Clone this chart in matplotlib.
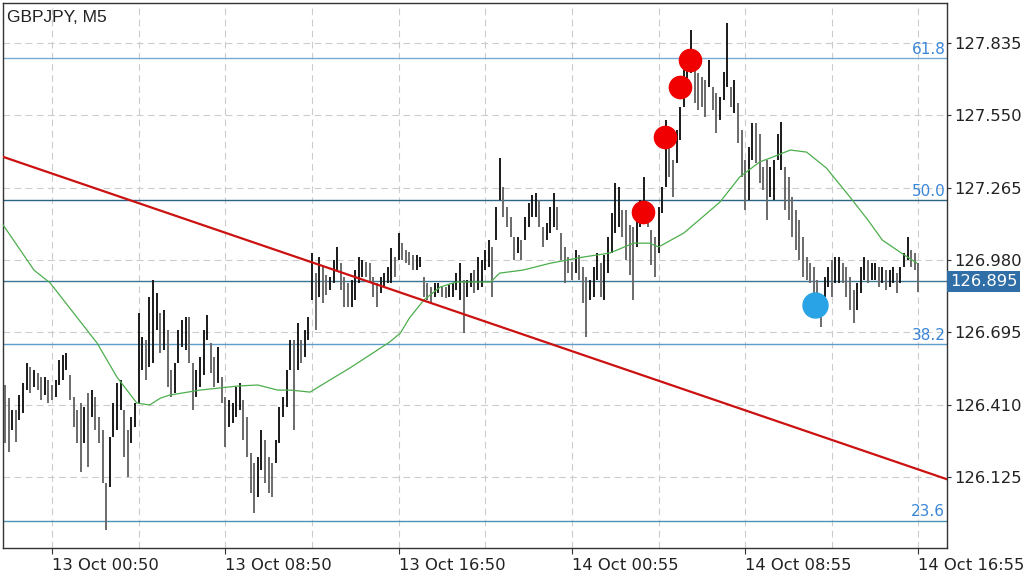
import numpy as np
import matplotlib
matplotlib.use("Agg")
import matplotlib.pyplot as plt
from matplotlib.transforms import blended_transform_factory

title = "GBPJPY, M5"
bar_step = 2  # one drawn bar per two M5 periods

highs = [
    126.487, 126.435, 126.388, 126.388, 126.447, 126.495, 126.573, 126.557, 126.546, 126.534,
    126.518, 126.518, 126.507, 126.487, 126.507, 126.585, 126.605, 126.613, 126.526, 126.439,
    126.388, 126.416, 126.400, 126.455, 126.467, 126.439, 126.361, 126.309, 126.100, 126.282,
    126.416, 126.495, 126.507, 126.388, 126.309, 126.361, 126.416, 126.771, 126.676, 126.664,
    126.834, 126.901, 126.849, 126.771, 126.783, 126.704, 126.546, 126.573, 126.704, 126.743,
    126.755, 126.755, 126.573, 126.546, 126.597, 126.704, 126.763, 126.652, 126.597, 126.636,
    126.518, 126.439, 126.428, 126.416, 126.479, 126.495, 126.428, 126.361, 126.219, 126.180,
    126.203, 126.309, 126.270, 126.203, 126.180, 126.270, 126.400, 126.439, 126.546, 126.664,
    126.664, 126.731, 126.664, 126.704, 126.755, 127.007, 126.928, 126.991, 126.952, 126.920,
    126.913, 126.980, 127.031, 126.968, 126.913, 126.889, 126.901, 126.940, 126.991, 126.980,
    126.972, 126.968, 126.913, 126.889, 126.913, 126.928, 126.952, 127.027, 126.991, 127.086,
    127.046, 127.019, 127.011, 126.999, 126.999, 126.991, 126.913, 126.889, 126.873, 126.889,
    126.889, 126.873, 126.873, 126.881, 126.889, 126.928, 126.968, 126.901, 126.901, 126.928,
    126.940, 126.991, 126.980, 127.019, 127.058, 127.031, 127.188, 127.382, 127.268, 127.188,
    127.149, 127.070, 127.070, 127.058, 127.149, 127.204, 127.236, 127.244, 127.216, 127.109,
    127.125, 127.188, 127.244, 127.188, 127.086, 127.031, 126.991, 126.972, 127.019, 126.999,
    126.952, 126.913, 126.901, 126.952, 127.007, 126.968, 126.999, 127.070, 127.165, 127.283,
    127.268, 127.177, 127.177, 127.117, 127.109, 127.137, 127.216, 127.307, 127.188, 127.098,
    127.070, 127.188, 127.268, 127.531, 127.425, 127.374, 127.492, 127.583, 127.729, 127.807,
    127.886, 127.729, 127.717, 127.701, 127.689, 127.768, 127.662, 127.638, 127.622, 127.721,
    127.914, 127.662, 127.689, 127.598, 127.492, 127.374, 127.425, 127.519, 127.519, 127.476,
    127.346, 127.374, 127.346, 127.374, 127.476, 127.523, 127.346, 127.307, 127.228, 127.177,
    127.137, 127.070, 126.991, 126.968, 126.952, 126.901, 126.834, 126.913, 126.952, 126.980,
    126.991, 126.991, 126.968, 126.952, 126.913, 126.861, 126.889, 126.952, 126.991, 126.980,
    126.968, 126.968, 126.952, 126.952, 126.940, 126.940, 126.952, 126.928, 126.952, 127.007,
    127.070, 127.019, 127.007, 126.968,
]
lows = [
    126.258, 126.223, 126.309, 126.262, 126.349, 126.376, 126.467, 126.455, 126.479, 126.467,
    126.428, 126.447, 126.416, 126.428, 126.439, 126.487, 126.507, 126.546, 126.428, 126.321,
    126.258, 126.144, 126.258, 126.163, 126.361, 126.309, 126.258, 126.100, 125.915, 126.084,
    126.282, 126.309, 126.388, 126.203, 126.124, 126.258, 126.321, 126.416, 126.546, 126.507,
    126.557, 126.573, 126.704, 126.613, 126.625, 126.479, 126.439, 126.455, 126.573, 126.636,
    126.625, 126.573, 126.388, 126.439, 126.479, 126.526, 126.664, 126.534, 126.479, 126.495,
    126.416, 126.243, 126.321, 126.337, 126.361, 126.388, 126.270, 126.203, 126.061, 125.982,
    126.046, 126.152, 126.100, 126.061, 126.046, 126.180, 126.258, 126.361, 126.400, 126.546,
    126.309, 126.546, 126.573, 126.597, 126.664, 126.822, 126.704, 126.834, 126.810, 126.841,
    126.861, 126.889, 126.940, 126.861, 126.794, 126.794, 126.794, 126.822, 126.889, 126.913,
    126.913, 126.889, 126.834, 126.794, 126.849, 126.873, 126.889, 126.889, 126.913, 126.980,
    126.980, 126.968, 126.960, 126.940, 126.940, 126.952, 126.834, 126.822, 126.810, 126.834,
    126.849, 126.834, 126.830, 126.834, 126.834, 126.861, 126.822, 126.692, 126.834, 126.873,
    126.849, 126.861, 126.873, 126.940, 126.952, 126.834, 127.058, 127.216, 127.149, 127.109,
    127.070, 126.980, 127.007, 126.980, 127.058, 127.109, 127.149, 127.149, 127.109, 127.031,
    127.058, 127.086, 127.109, 127.098, 126.980, 126.889, 126.928, 126.901, 126.928, 126.901,
    126.810, 126.676, 126.822, 126.834, 126.901, 126.834, 126.822, 126.928, 127.007, 127.086,
    127.109, 127.070, 126.980, 126.920, 126.822, 127.031, 127.109, 127.137, 127.109, 126.960,
    126.913, 127.007, 127.165, 127.268, 127.307, 127.228, 127.362, 127.453, 127.583, 127.669,
    127.717, 127.598, 127.571, 127.583, 127.543, 127.662, 127.571, 127.480, 127.531, 127.610,
    127.662, 127.583, 127.559, 127.441, 127.307, 127.177, 127.216, 127.374, 127.362, 127.283,
    127.256, 127.137, 127.228, 127.216, 127.374, 127.334, 127.177, 127.137, 127.070, 127.019,
    126.980, 126.913, 126.901, 126.889, 126.834, 126.755, 126.715, 126.834, 126.873, 126.834,
    126.889, 126.889, 126.889, 126.834, 126.783, 126.731, 126.783, 126.849, 126.901, 126.889,
    126.901, 126.901, 126.873, 126.889, 126.861, 126.873, 126.889, 126.849, 126.889, 126.952,
    126.980, 126.952, 126.940, 126.853,
]

# moving average (M5 bar index, price)
ma_idx = [-1, 16, 25, 51, 62, 73, 80, 86, 91, 108, 129, 140, 151, 158, 169, 180, 191, 202,
          213, 219, 224, 232, 241, 250, 258, 269, 274, 287, 302, 320, 335, 348, 357, 362,
          376, 389, 396, 407, 418, 424, 435, 444, 455, 468, 478, 486, 498, 505]
ma_vals = [127.117, 126.940, 126.889, 126.652, 126.518, 126.416, 126.408, 126.435, 126.447,
           126.467, 126.483, 126.487, 126.467, 126.467, 126.459, 126.507, 126.554, 126.605,
           126.656, 126.692, 126.751, 126.822, 126.873, 126.893, 126.893, 126.893, 126.928,
           126.940, 126.967, 126.991, 127.007, 127.046, 127.046, 127.031, 127.086, 127.165,
           127.208, 127.307, 127.366, 127.382, 127.413, 127.405, 127.342, 127.228, 127.137,
           127.058, 127.000, 126.968]

trend_idx = [-1, 522]
trend_vals = [127.386, 126.115]

fib_labels = ["23.6", "38.2", "50.0", "61.8"]
fib_prices = [125.951, 126.648, 127.216, 127.775]
fib_colors = ["#4b93b6", "#5e9dca", "#2d6387", "#78acd4"]

last_price = 126.895

red_idx = [353.5, 365.6, 374.0, 379.5]
red_vals = [127.169, 127.464, 127.662, 127.768]
blue_idx = [448.8]
blue_vals = [126.802]

xtick_idx = [26, 122, 218, 314, 410, 506]
xtick_labels = ["13 Oct 00:50", "13 Oct 08:50", "13 Oct 16:50",
                "14 Oct 00:55", "14 Oct 08:55", "14 Oct 16:55"]
xgrid_minor = [74, 170, 266, 362, 458]
ytick_vals = [126.125, 126.410, 126.695, 126.980, 127.265, 127.550, 127.835]

fig = plt.figure(figsize=(10.24, 5.77), dpi=100)
ax = fig.add_axes([0.003, 0.050, 0.922, 0.945])

# bars
idx = np.arange(len(highs)) * bar_step
mid = (np.array(highs) + np.array(lows)) / 2
colors = ["#1a1a1a" if i > 0 and mid[i] >= mid[i - 1] else "#6a6a6a" for i in range(len(mid))]
ax.vlines(idx, lows, highs, colors=colors, lw=1.4, zorder=3)

ax.plot(ma_idx, ma_vals, color="#4cae4c", lw=0.9, zorder=4)
ax.plot(trend_idx, trend_vals, color="#cc1111", lw=1.6, zorder=5)

trans = blended_transform_factory(ax.transAxes, ax.transData)
for lab, p, c in zip(fib_labels, fib_prices, fib_colors):
    ax.axhline(p, color=c, lw=1.0, zorder=2)
    ax.text(0.998, p + 0.006, lab, transform=trans, ha="right", va="bottom",
            color="#3a86d6", fontsize=11)

ax.axhline(last_price, color="#3b7794", lw=1.0, zorder=2)
ax.text(1.003, last_price, f"{last_price:.3f}", transform=trans, ha="left", va="center",
        color="white", fontsize=11.8, clip_on=False,
        bbox=dict(boxstyle="square,pad=0.18", fc="#2f6ea6", ec="none"))

ax.plot(red_idx, red_vals, "o", color="#f00000", ms=16, zorder=6)
ax.plot(blue_idx, blue_vals, "o", color="#29a3e6", ms=18, zorder=6)

ax.set_xlim(-1.1, 521.9)
ax.set_ylim(125.844, 127.993)

ax.set_xticks(xtick_idx)
ax.set_xticklabels(xtick_labels, ha="left", fontsize=11.8, color="#222222")
ax.set_xticks(xgrid_minor, minor=True)
ax.tick_params(axis="x", which="major", length=4, pad=3, color="#333333")
ax.tick_params(axis="x", which="minor", length=0)

ax.yaxis.tick_right()
ax.set_yticks(ytick_vals)
ax.set_yticklabels([f"{v:.3f}" for v in ytick_vals], fontsize=11.8, color="#222222")
ax.tick_params(axis="y", length=3, pad=2, color="#333333")

ax.grid(True, which="both", color="#cccccc", lw=0.8, ls=(0, (6, 4)), zorder=0)
for s in ax.spines.values():
    s.set_color("#333333")
    s.set_linewidth(1.0)

fig.text(0.007, 0.97, title, fontsize=12.5, family="Liberation Sans", color="#222222",
         va="center", ha="left")

fig.savefig("out.png", dpi=100)
